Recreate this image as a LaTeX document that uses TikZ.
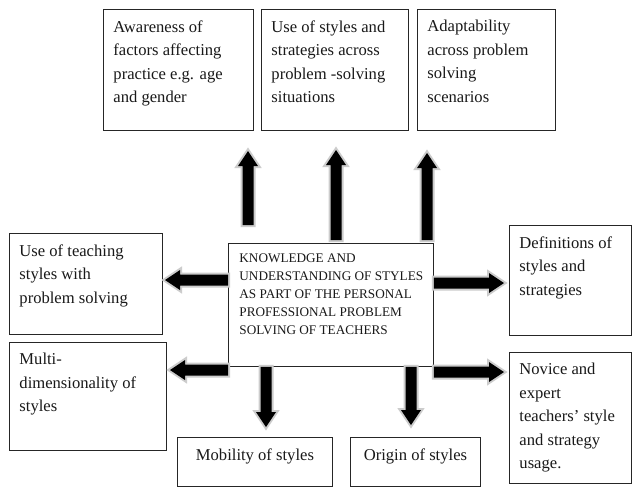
\documentclass[tikz,border=0pt]{standalone}
\usepackage{fontspec}
\setmainfont{Liberation Serif}
\usetikzlibrary{calc}
\newdimen\myArAx \newdimen\myArAy \newdimen\myArBx \newdimen\myArBy
\newcommand\boxfont{\fontsize{16.6}{23.5}\selectfont}
\newcommand\cenfont{\fontsize{13.2}{18}\selectfont}
\newcommand\fatarrow[2]{%
  \pgfextractx{\myArAx}{\pgfpointanchor{#1}{center}}%
  \pgfextracty{\myArAy}{\pgfpointanchor{#1}{center}}%
  \pgfextractx{\myArBx}{\pgfpointanchor{#2}{center}}%
  \pgfextracty{\myArBy}{\pgfpointanchor{#2}{center}}%
  \pgfmathsetmacro\myArAng{atan2(\myArBy-\myArAy,\myArBx-\myArAx)}%
  \pgfmathsetmacro\myArLen{veclen(\myArBx-\myArAx,\myArBy-\myArAy)}%
  \begin{scope}[shift={(#1)}, rotate=\myArAng]
    \draw[halo] (0,-5.5) -- (\myArLen-15,-5.5) -- (\myArLen-15,-10) -- (\myArLen,0)
      -- (\myArLen-15,10) -- (\myArLen-15,5.5) -- (0,5.5) -- cycle;
    \fill[black] (0,-5.5) -- (\myArLen-15,-5.5) -- (\myArLen-15,-10) -- (\myArLen,0)
      -- (\myArLen-15,10) -- (\myArLen-15,5.5) -- (0,5.5) -- cycle;
  \end{scope}}
\begin{document}
\begin{tikzpicture}[x=1pt,y=-1pt,
  bx/.style={draw=black!85, line width=0.9pt, anchor=north west,
    inner xsep=10pt, inner ysep=11pt, font=\boxfont, text=black!90},
  cbx/.style={bx, inner xsep=11pt, inner ysep=10pt, font=\cenfont},
  halo/.style={draw=black!20, line width=4pt, line join=miter, fill=white}]
\useasboundingbox (0,0) rectangle (632,488);
\fill[white] (0,0) rectangle (632,488);

% top boxes
\node[bx] (aw) at (103,9) {\parbox[t][99pt][t]{130pt}{\raggedright Awareness of\\ factors affecting\\ practice e.g. age\\ and gender}};
\node[bx] (us) at (261,9) {\parbox[t][99pt][t]{127pt}{\raggedright Use of styles and\\ strategies across\\ problem -solving\\ situations}};
\node[bx] (ad) at (417,9) {\parbox[t][99pt][t]{118pt}{\raggedright Adaptability\\ across problem\\ solving\\ scenarios}};

% left boxes
\node[bx] (ut) at (9,233) {\parbox[t][79pt][t]{133pt}{\raggedright Use of teaching\\ styles with\\ problem solving}};
\node[bx] (mu) at (9,342) {\parbox[t][86pt][t]{137pt}{\raggedright Multi-\\ dimensionality of\\ styles}};

% right boxes
\node[bx] (de) at (509,225) {\parbox[t][88pt][t]{102pt}{\raggedright Definitions of\\ styles and\\ strategies}};
\node[bx] (no) at (509,352) {\parbox[t][109pt][t]{102pt}{\raggedright Novice and\\ expert\\ teachers’ style\\ and strategy\\ usage.}};

% bottom boxes
\node[bx] (mo) at (177,437) {\parbox[t][27pt][t]{135pt}{\centering Mobility of styles}};
\node[bx] (or) at (350,437) {\parbox[t][27pt][t]{110pt}{\centering Origin of styles}};

% centre box
\node[cbx] (ce) at (228,243) {\parbox[t][103pt][t]{183pt}{\raggedright \mbox{KNOWLEDGE AND}\\ \mbox{UNDERSTANDING OF STYLES}\\ \mbox{AS PART OF THE PERSONAL}\\ \mbox{PROFESSIONAL PROBLEM}\\ \mbox{SOLVING OF TEACHERS}}};

% arrow end points
\coordinate (u1s) at (248,225); \coordinate (u1e) at (248,151);
\coordinate (u2s) at (336,240); \coordinate (u2e) at (336,150);
\coordinate (u3s) at (427,240); \coordinate (u3e) at (427,153);
\coordinate (l1s) at (ce.west |- 0,280); \coordinate (l1e) at (165,280);
\coordinate (l2s) at (ce.west |- 0,370); \coordinate (l2e) at (170,370);
\coordinate (r1s) at (ce.east |- 0,283); \coordinate (r1e) at (504,283);
\coordinate (r2s) at (ce.east |- 0,372); \coordinate (r2e) at (504,372);
\coordinate (d1s) at (ce.south -| 266,0); \coordinate (d1e) at (266,427);
\coordinate (d2s) at (ce.south -| 411,0); \coordinate (d2e) at (411,425);

\fatarrow{u1s}{u1e}
\fatarrow{u2s}{u2e}
\fatarrow{u3s}{u3e}
\fatarrow{l1s}{l1e}
\fatarrow{l2s}{l2e}
\fatarrow{r1s}{r1e}
\fatarrow{r2s}{r2e}
\fatarrow{d1s}{d1e}
\fatarrow{d2s}{d2e}
\end{tikzpicture}
\end{document}
